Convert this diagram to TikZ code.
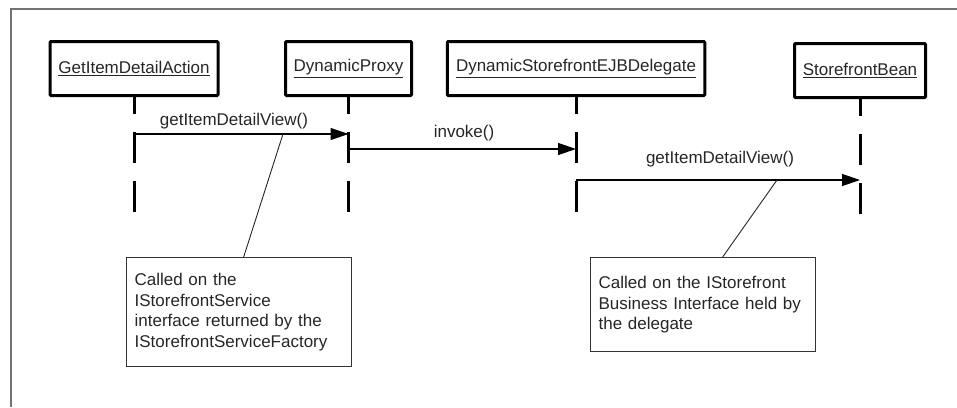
\documentclass[tikz,border=0pt]{standalone}
\usepackage{fontspec}
\setmainfont{Liberation Sans}
\usetikzlibrary{arrows.meta}

\begin{document}
\begin{tikzpicture}[x=1pt, y=-1pt,
  every node/.style={font=\fontsize{17}{20.5}\selectfont, text=black!85},
  object/.style={draw, line width=3pt, rounded corners=1pt, minimum height=54pt, inner sep=0pt},
  lifeline/.style={line width=3pt, dash pattern=on 31pt off 18pt, dash phase=14pt},
  message/.style={line width=1.2pt, -{Triangle[length=18pt,width=12pt]}},
  msglabel/.style={anchor=base, inner sep=0pt},
  note/.style={draw=black!80, line width=1.3pt, align=left, text width=209pt,
    inner xsep=8pt, inner ysep=0pt, anchor=north west},
  noteline/.style={line width=0.9pt, black!85}]

  % --- Rahmen ---
  \useasboundingbox (0,0) rectangle (957,407);
  \draw[line width=1.5pt, black!55] (11,407) -- (11,9) -- (957,9);

  % --- Objekte ---
  \node[object, minimum width=168pt]   (action)   at (134,68.5)  {\underline{GetItemDetailAction}};
  \node[object, minimum width=126pt]   (proxy)    at (348.5,68.5){\underline{DynamicProxy}};
  \node[object, minimum width=257.5pt] (delegate) at (576,68.5)  {\underline{DynamicStorefrontEJBDelegate}};
  \node[object, minimum width=131pt]   (bean)     at (860,70.5)  {\underline{StorefrontBean}};

  % --- Lebenslinien ---
  \coordinate (actionEnd)   at (134,212);
  \coordinate (proxyEnd)    at (348.5,212);
  \coordinate (delegateEnd) at (576,212);
  \coordinate (beanEnd)     at (860,214);
  \draw[lifeline] (action.south)   -- (actionEnd);
  \draw[lifeline] (proxy.south)    -- (proxyEnd);
  \draw[lifeline] (delegate.south) -- (delegateEnd);
  \draw[lifeline] (bean.south)     -- (beanEnd);

  % --- Nachrichten ---
  \coordinate (callA) at (134,134);
  \coordinate (callB) at (348.5,134);
  \coordinate (invA)  at (348.5,149);
  \coordinate (invB)  at (576,149);
  \coordinate (callC) at (576,180);
  \coordinate (callD) at (860,180);
  \draw[message] (callA) -- (callB);
  \draw[message] (invA)  -- (invB);
  \draw[message] (callC) -- (callD);

  \node[msglabel] (lblA)   at (234,125) {getItemDetailView()};
  \node[msglabel] (lblInv) at (464,137) {invoke()};
  \node[msglabel] (lblC)   at (720,163) {getItemDetailView()};

  % --- Notizen ---
  \node[note, minimum height=109pt] (note1) at (126,257)
    {Called on the\\IStorefrontService\\interface returned by the\\IStorefrontServiceFactory};
  \node[note, minimum height=94pt] (note2) at (590,257)
    {Called on the IStorefront\\Business Interface held by\\the delegate};

  \coordinate (pin1) at (283,134);
  \coordinate (pin2) at (777,180);
  \draw[noteline] ([xshift=4.5pt]note1.north)  -- (pin1);
  \draw[noteline] ([xshift=19.5pt]note2.north) -- (pin2);

\end{tikzpicture}
\end{document}
